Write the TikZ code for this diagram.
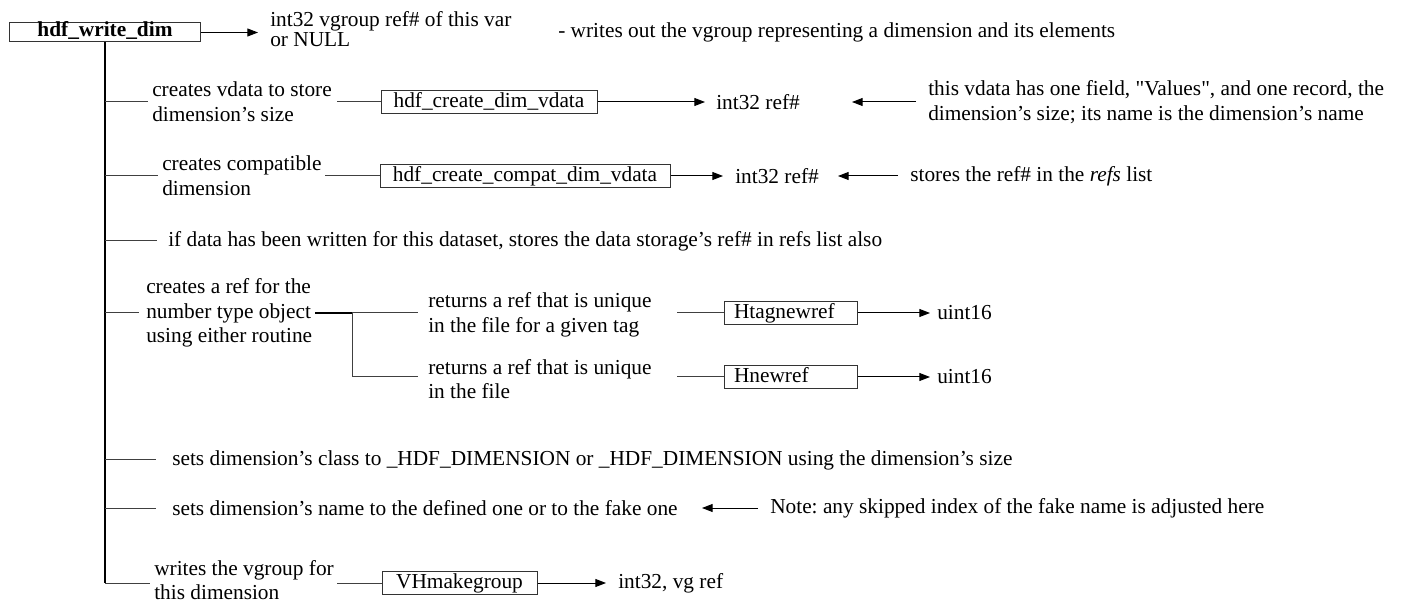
\documentclass[tikz,border=0pt]{standalone}
\usepackage{fontspec}
\setmainfont{Liberation Serif}[Ligatures=TeXOff]
\usetikzlibrary{arrows.meta}
\frenchspacing
\begin{document}
\begin{tikzpicture}[x=0.75pt,y=-0.75pt,
  every node/.style={font=\fontsize{16}{18.5}\selectfont},
  lbl/.style={anchor=west,align=left,inner sep=0pt},
  fbox/.style={draw=black!80,line width=0.75pt,inner xsep=0pt,inner ysep=0pt,minimum height=17.5pt,text height=13pt,text depth=4.5pt},
  lbox/.style={fbox,inner xsep=7.5pt,text width=84.75pt,align=left},
  conn/.style={draw=black!75,line width=0.75pt},
  trunkline/.style={draw=black,line width=1.1pt},
  boldline/.style={draw=black,line width=1.5pt},
  arr/.style={draw=black,line width=0.75pt,-{Triangle[length=8pt,width=6pt]}},
]
\useasboundingbox (0,0) rectangle (1406,605);

% top
\node[fbox,minimum width=143.25pt,minimum height=14.25pt,text height=10.5pt,text depth=3.75pt] (W) at (105,32.5) {\textbf{hdf\_write\_dim}};
\coordinate (Wtip) at (258,32.5);
\draw[arr] (W.east) -- (Wtip);
\node[lbl,font=\fontsize{16}{15}\selectfont] (ret) at (270,29) {int32 vgroup ref\# of this var\\or NULL};
\node[lbl] (desc) at (558,32.5) {- writes out the vgroup representing a dimension and its elements};

% trunk
\coordinate (tend) at (105,583);
\draw[trunkline] (W.south) -- (tend);

% branch 1
\coordinate (j1) at (105,102);
\coordinate (e1) at (148,102);
\node[lbl] (t1) at (152,102) {creates vdata to store\\dimension’s size};
\coordinate (f1) at (337,102);
\node[fbox,minimum width=162pt] (b1) at (489,102) {hdf\_create\_dim\_vdata};
\draw[conn] (j1) -- (e1);
\draw[conn] (f1) -- (b1.west);
\coordinate (r1tip) at (705,102);
\draw[arr] (b1.east) -- (r1tip);
\node[lbl] (r1) at (716,102) {int32 ref\#};
\coordinate (n1tail) at (916,102);
\coordinate (n1tip) at (852,102);
\draw[arr] (n1tail) -- (n1tip);
\node[lbl] (n1) at (928,102) {this vdata has one field, "Values", and one record, the\\dimension’s size; its name is the dimension’s name};

% branch 2
\coordinate (j2) at (105,176);
\coordinate (e2) at (158,176);
\node[lbl] (t2) at (162,176) {creates compatible\\dimension};
\coordinate (f2) at (325,176);
\node[fbox,minimum width=217.5pt] (b2) at (525,176) {hdf\_create\_compat\_dim\_vdata};
\draw[conn] (j2) -- (e2);
\draw[conn] (f2) -- (b2.west);
\coordinate (r2tip) at (723,176);
\draw[arr] (b2.east) -- (r2tip);
\node[lbl] (r2) at (735,176) {int32 ref\#};
\coordinate (n2tail) at (898,176);
\coordinate (n2tip) at (838,176);
\draw[arr] (n2tail) -- (n2tip);
\node[lbl] (n2) at (910,176) {stores the ref\# in the \textit{refs} list};

% branch 3
\coordinate (j3) at (105,241);
\coordinate (e3) at (157,241);
\draw[conn] (j3) -- (e3);
\node[lbl] (t3) at (168,241) {if data has been written for this dataset, stores the data storage’s ref\# in refs list also};

% branch 4
\coordinate (j4) at (105,313);
\coordinate (e4) at (139,313);
\draw[conn] (j4) -- (e4);
\node[lbl] (t4) at (146,313) {creates a ref for the\\number type object\\using either routine};
\coordinate (s4a) at (315,313);
\coordinate (s4) at (352,313);
\coordinate (s4b) at (352,377);
\draw[boldline] (s4a) -- (s4);
\draw[conn] (s4) -- (s4b);
% sub 1
\coordinate (u1e) at (418,313);
\draw[conn] (s4) -- (u1e);
\node[lbl] (u1) at (428,315) {returns a ref that is unique\\in the file for a given tag};
\coordinate (g1) at (677,313);
\node[lbox] (h1) at (790.5,313) {Htagnewref};
\draw[conn] (g1) -- (h1.west);
\coordinate (h1tip) at (930,313);
\draw[arr] (h1.east) -- (h1tip);
\node[lbl] (o1) at (937,313) {uint16};
% sub 2
\coordinate (u2e) at (418,377);
\draw[conn] (s4b) -- (u2e);
\node[lbl] (u2) at (428,379) {returns a ref that is unique\\in the file};
\coordinate (g2) at (677,377);
\node[lbox] (h2) at (790.5,377) {Hnewref};
\draw[conn] (g2) -- (h2.west);
\coordinate (h2tip) at (930,377);
\draw[arr] (h2.east) -- (h2tip);
\node[lbl] (o2) at (937,377) {uint16};

% branch 5
\coordinate (j5) at (105,460);
\coordinate (e5) at (156,460);
\draw[conn] (j5) -- (e5);
\node[lbl] (t5) at (172,460) {sets dimension’s class to \_HDF\_DIMENSION or \_HDF\_DIMENSION using the dimension’s size};

% branch 6
\coordinate (j6) at (105,508);
\coordinate (e6) at (156,508);
\draw[conn] (j6) -- (e6);
\node[lbl] (t6) at (172,508) {sets dimension’s name to the defined one or to the fake one};
\coordinate (n6tail) at (758,508);
\coordinate (n6tip) at (702,508);
\draw[arr] (n6tail) -- (n6tip);
\node[lbl] (n6) at (770,508) {Note: any skipped index of the fake name is adjusted here};

% branch 7
\coordinate (e7) at (150,583);
\draw[conn] (tend) -- (e7);
\node[lbl] (t7) at (154,580) {writes the vgroup for\\this dimension};
\coordinate (f7) at (337,583);
\node[fbox,minimum width=116.25pt] (vh) at (459.5,583) {VHmakegroup};
\draw[conn] (f7) -- (vh.west);
\coordinate (vhtip) at (606,583);
\draw[arr] (vh.east) -- (vhtip);
\node[lbl] (o7) at (618,583) {int32, vg ref};
\end{tikzpicture}
\end{document}
